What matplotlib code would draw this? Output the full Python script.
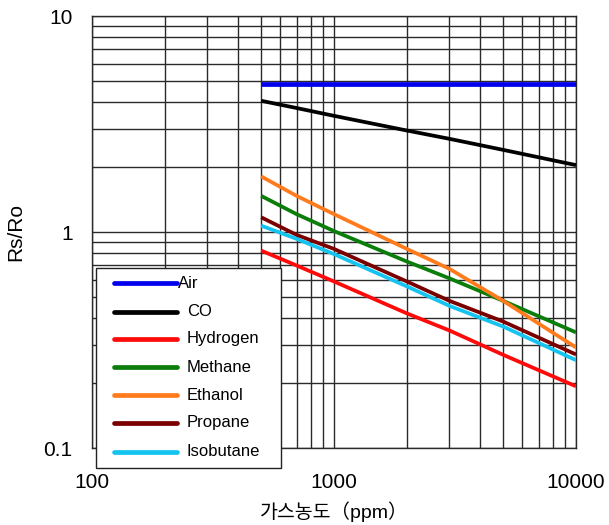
import numpy as np
import matplotlib.pyplot as plt
from matplotlib.lines import Line2D
from matplotlib.patches import Rectangle
from matplotlib.ticker import LogLocator, FixedLocator, FixedFormatter, NullFormatter

plt.rcParams['font.family'] = ['Liberation Sans', 'Noto Sans CJK KR', 'DejaVu Sans']

# gas concentration (ppm) where the curves are read
ppm = [500, 700, 1000, 2000, 3000, 5000, 10000]

air = [4.85, 4.85, 4.85, 4.85, 4.85, 4.85, 4.85]
co = [4.05, 3.75, 3.45, 2.95, 2.7, 2.4, 2.04]
hydrogen = [0.82, 0.70, 0.59, 0.42, 0.35, 0.27, 0.193]
methane = [1.47, 1.21, 1.01, 0.73, 0.61, 0.48, 0.343]
ethanol = [1.81, 1.47, 1.21, 0.835, 0.675, 0.48, 0.292]
propane = [1.17, 0.97, 0.835, 0.59, 0.48, 0.385, 0.271]
isobutane = [1.07, 0.93, 0.79, 0.56, 0.455, 0.365, 0.255]

names = ["Air", "CO", "Hydrogen", "Methane", "Ethanol", "Propane", "Isobutane"]
series = [air, co, hydrogen, methane, ethanol, propane, isobutane]
colors = ["#0000ee", "#000000", "#ff0a0a", "#0a7d0a", "#ff7b1c", "#7a0000", "#14c3f0"]
widths = [3.4, 2.7, 2.7, 2.7, 2.7, 2.7, 2.7]

xticks = [100, 1000, 10000]
yticks = [0.1, 1, 10]

W, H = 609, 525
fig = plt.figure(figsize=(W / 100, H / 100), dpi=100)
ax = fig.add_axes([92 / W, 1 - 448 / H, (576 - 92) / W, (448 - 16) / H])

for vals, lab, c, w in zip(series, names, colors, widths):
    ax.plot(ppm, vals, color=c, lw=w, label=lab, solid_capstyle='butt', zorder=3)

ax.set_xscale('log')
ax.set_yscale('log')
ax.set_xlim(100, 10000)
ax.set_ylim(0.1, 10)

ax.xaxis.set_major_locator(FixedLocator(xticks))
ax.xaxis.set_major_formatter(FixedFormatter([str(v) for v in xticks]))
ax.yaxis.set_major_locator(FixedLocator(yticks))
ax.yaxis.set_major_formatter(FixedFormatter(["0.1", "1", "10"]))
ax.xaxis.set_minor_locator(LogLocator(base=10, subs=np.arange(2, 10)))
ax.yaxis.set_minor_locator(LogLocator(base=10, subs=np.arange(2, 10)))
ax.xaxis.set_minor_formatter(NullFormatter())
ax.yaxis.set_minor_formatter(NullFormatter())

ax.grid(True, which='both', color='#2a2a2a', lw=1.0, zorder=1)
ax.tick_params(which='both', length=0)
ax.tick_params(axis='x', labelsize=15, pad=18)
ax.tick_params(axis='y', labelsize=15, pad=14)
for s in ax.spines.values():
    s.set_color('#2a2a2a')
    s.set_linewidth(1.0)

ax.set_ylabel("Rs/Ro", fontsize=15, labelpad=13)
ax.set_xlabel("가스농도（ppm）", fontsize=14, labelpad=7)

# hand-drawn legend box (it hangs below the plot area like the original)
def fx(x):
    return x / W

def fy(y):
    return 1 - y / H

fig.add_artist(Rectangle((fx(96), fy(468)), fx(281) - fx(96), fy(268) - fy(468),
                         transform=fig.transFigure, facecolor='white',
                         edgecolor='#222222', lw=1.0, zorder=5))
row_y = [283, 312, 339, 367, 395, 423, 452]
for lab, c, yy in zip(names, colors, row_y):
    fig.add_artist(Line2D([fx(114), fx(177)], [fy(yy), fy(yy)], transform=fig.transFigure,
                          color=c, lw=3.4, solid_capstyle='round', zorder=6))
    tx = 178 if lab == "Air" else 187
    fig.text(fx(tx), fy(yy), lab, fontsize=12, va='center', ha='left', zorder=7)

fig.savefig("out.png", dpi=100)
